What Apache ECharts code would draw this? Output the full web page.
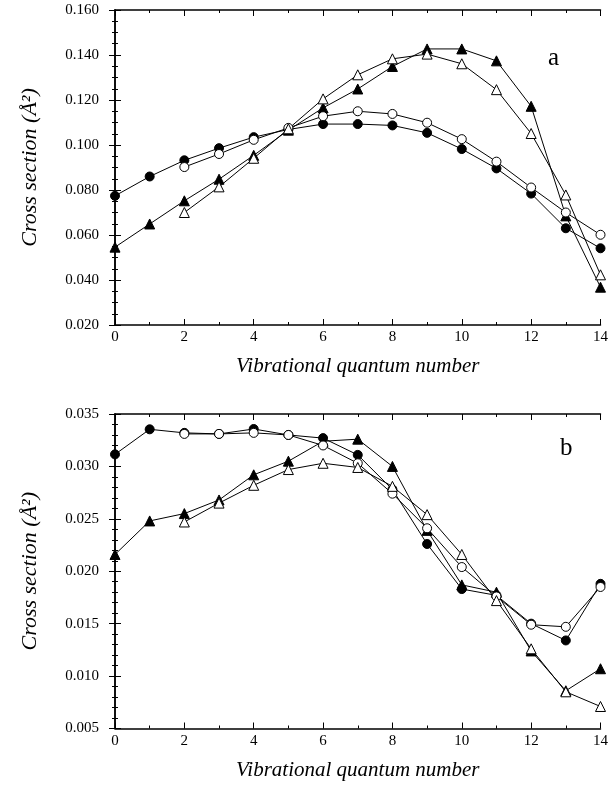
<!DOCTYPE html>
<html>
<head>
<meta charset="utf-8">
<script src="https://cdn.jsdelivr.net/npm/echarts@6/dist/echarts.min.js"></script>
<style>
  html, body { margin: 0; padding: 0; background: #fff; }
  #chart { width: 611px; height: 785px; }
</style>
</head>
<body>
<div id="chart"></div>
<script>
// Vibrational quantum numbers
const levels = [0, 1, 2, 3, 4, 5, 6, 7, 8, 9, 10, 11, 12, 13, 14];

// Panel a: cross sections (Å²)
const aFilledCircle = [0.0774, 0.0860, 0.0932, 0.0986, 0.1035, 0.1069, 0.1093, 0.1093, 0.1087, 0.1054, 0.0982, 0.0896, 0.0784, 0.0630, 0.0541];
const aOpenCircle   = [null, null, 0.0902, 0.0960, 0.1023, 0.1076, 0.1128, 0.1150, 0.1138, 0.1099, 0.1026, 0.0926, 0.0811, 0.0700, 0.0601];
const aFilledTri    = [0.0546, 0.0649, 0.0752, 0.0848, 0.0954, 0.1066, 0.1165, 0.1249, 0.1349, 0.1427, 0.1427, 0.1374, 0.1172, 0.0685, 0.0368];
const aOpenTri      = [null, null, 0.0700, 0.0814, 0.0941, 0.1072, 0.1205, 0.1312, 0.1383, 0.1404, 0.1361, 0.1246, 0.1051, 0.0778, 0.0423];

// Panel b: cross sections (Å²)
const bFilledCircle = [0.03115, 0.03354, 0.0332, 0.0331, 0.03357, 0.0330, 0.0327, 0.0311, 0.0278, 0.0226, 0.0183, 0.0177, 0.0150, 0.0134, 0.0188];
const bOpenCircle   = [null, null, 0.0331, 0.0331, 0.0332, 0.0330, 0.0320, 0.0303, 0.0274, 0.0241, 0.0204, 0.0176, 0.0149, 0.0147, 0.0185];
const bFilledTri    = [0.0216, 0.0248, 0.0255, 0.0268, 0.0292, 0.0305, 0.0324, 0.0326, 0.0300, 0.0239, 0.0187, 0.0180, 0.0124, 0.0086, 0.0107];
const bOpenTri      = [null, null, 0.0247, 0.0265, 0.0282, 0.0297, 0.0303, 0.0299, 0.0281, 0.0254, 0.0216, 0.0172, 0.0126, 0.0085, 0.0071];

const serif = 'Liberation Serif';
const ink = '#000';

function pairs(ys) {
  const out = [];
  ys.forEach((y, i) => { if (y !== null) out.push([levels[i], y]); });
  return out;
}

function seriesFor(data, shape, filled, axisIdx) {
  return {
    type: 'line',
    xAxisIndex: axisIdx * 2,
    yAxisIndex: axisIdx * 2,
    data: pairs(data),
    symbol: shape,
    symbolSize: shape === 'circle' ? 9 : 10,
    lineStyle: { color: ink, width: 1 },
    itemStyle: { color: filled ? ink : '#fff', borderColor: ink, borderWidth: 1 },
    emphasis: { disabled: true },
    z: filled ? 3 : 4,
    animation: false
  };
}

function xAxes(gridIndex) {
  const common = {
    type: 'value', gridIndex, min: 0, max: 14, interval: 2,
    axisLine: { show: true, lineStyle: { color: ink, width: 1.5 } },
    axisTick: { show: true, inside: true, length: 6, lineStyle: { color: ink, width: 1 } },
    minorTick: { show: true, splitNumber: 2, length: 3, lineStyle: { color: ink, width: 1 } },
    splitLine: { show: false }
  };
  return [
    Object.assign({}, common, {
      position: 'bottom',
      axisLabel: { color: ink, fontFamily: serif, fontSize: 15, margin: 5 },
      name: 'Vibrational quantum number',
      nameLocation: 'middle',
      nameGap: 31,
      nameTextStyle: { color: ink, fontFamily: serif, fontStyle: 'italic', fontSize: 21 }
    }),
    Object.assign({}, common, { position: 'top', axisLabel: { show: false } })
  ];
}

function yAxes(gridIndex, min, max, interval, minorSplit) {
  const common = {
    type: 'value', gridIndex, min, max, interval,
    axisLine: { show: true, lineStyle: { color: ink, width: 1.5 } },
    axisTick: { show: true, inside: true, length: 6, lineStyle: { color: ink, width: 1 } },
    minorTick: { show: true, splitNumber: minorSplit, length: 3, lineStyle: { color: ink, width: 1 } },
    splitLine: { show: false }
  };
  return [
    Object.assign({}, common, {
      position: 'left',
      axisLabel: { color: ink, fontFamily: serif, fontSize: 15, margin: 16, formatter: v => v.toFixed(3) },
      name: 'Cross section (Å²)',
      nameLocation: 'middle',
      nameRotate: 90,
      nameGap: 74,
      nameTextStyle: { color: ink, fontFamily: serif, fontStyle: 'italic', fontSize: 22 }
    }),
    Object.assign({}, common, { position: 'right', axisLabel: { show: false } })
  ];
}

const chart = echarts.init(document.getElementById('chart'), null, { renderer: 'canvas' });

chart.setOption({
  backgroundColor: '#fff',
  animation: false,
  grid: [
    { left: 115, right: 6, top: 10, height: 315 },
    { left: 115, right: 6, top: 414, height: 314.5 }
  ],
  xAxis: [...xAxes(0), ...xAxes(1)],
  yAxis: [...yAxes(0, 0.02, 0.16, 0.02, 4), ...yAxes(1, 0.005, 0.035, 0.005, 5)],
  graphic: [
    { type: 'text', left: 548, top: 46, style: { text: 'a', fill: ink, font: '25px "Liberation Serif"' } },
    { type: 'text', left: 560, top: 436, style: { text: 'b', fill: ink, font: '25px "Liberation Serif"' } }
  ],
  series: [
    seriesFor(aFilledCircle, 'circle', true, 0),
    seriesFor(aOpenCircle, 'circle', false, 0),
    seriesFor(aFilledTri, 'triangle', true, 0),
    seriesFor(aOpenTri, 'triangle', false, 0),
    seriesFor(bFilledCircle, 'circle', true, 1),
    seriesFor(bOpenCircle, 'circle', false, 1),
    seriesFor(bFilledTri, 'triangle', true, 1),
    seriesFor(bOpenTri, 'triangle', false, 1)
  ]
});
</script>
</body>
</html>
